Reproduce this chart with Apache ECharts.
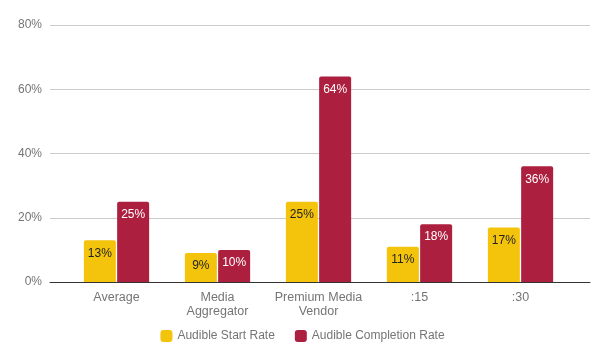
<!DOCTYPE html>
<html><head><meta charset="utf-8">
<script src="https://cdn.jsdelivr.net/npm/echarts@6/dist/echarts.min.js"></script>
<style>html,body{margin:0;padding:0;background:#fff}#c{width:605px;height:361px}</style>
</head><body><div id="c"></div>
<script>
const categories = ['Average', 'Media\nAggregator', 'Premium Media\nVendor', ':15', ':30'];
const startRate = [13, 9, 25, 11, 17];
const completionRate = [25, 10, 64, 18, 36];
const yTicks = [0, 20, 40, 60, 80];
const seriesNames = ['Audible Start Rate', 'Audible Completion Rate'];

const chart = echarts.init(document.getElementById('c'));
const font = 'Arial, "Liberation Sans", sans-serif';
chart.setOption({
  animation: false,
  textStyle: { fontFamily: font },
  legend: {
    bottom: 14, left: 'center', itemWidth: 12, itemHeight: 12, itemGap: 20,
    icon: 'roundRect',
    textStyle: { color: '#757575', fontSize: 12, fontFamily: font },
    data: seriesNames
  },
  grid: [
    { left: 50, right: 15, top: 25, bottom: 79 },
    { left: 66, right: 34, top: 25, bottom: 79 }
  ],
  xAxis: [
    { type: 'category', gridIndex: 0, data: [''], axisLine: { lineStyle: { color: '#333', width: 1 } },
      axisTick: { show: false }, axisLabel: { show: false } },
    { type: 'category', gridIndex: 1, data: categories, axisLine: { show: false }, axisTick: { show: false },
      axisLabel: { interval: 0, color: '#757575', fontSize: 12.5, fontFamily: font, margin: 9, lineHeight: 14 } }
  ],
  yAxis: [
    { type: 'value', gridIndex: 0, min: yTicks[0], max: yTicks[yTicks.length - 1], interval: 20,
      axisLine: { show: false }, axisTick: { show: false },
      axisLabel: { formatter: '{value}%', color: '#757575', fontSize: 12, fontFamily: font, margin: 8 },
      splitLine: { lineStyle: { color: '#cccccc' } } },
    { type: 'value', gridIndex: 1, min: yTicks[0], max: yTicks[yTicks.length - 1], interval: 20,
      show: false }
  ],
  series: [
    { name: seriesNames[0], type: 'bar', xAxisIndex: 1, yAxisIndex: 1, data: startRate,
      barWidth: 32, barGap: '4%', itemStyle: { color: '#f4c40c', borderRadius: [2, 2, 0, 0] },
      label: { show: true, position: 'insideTop', distance: 7, formatter: '{c}%', color: '#222', fontSize: 12, fontFamily: font } },
    { name: seriesNames[1], type: 'bar', xAxisIndex: 1, yAxisIndex: 1, data: completionRate,
      barWidth: 32, barGap: '4%', itemStyle: { color: '#ad1f3f', borderRadius: [2, 2, 0, 0] },
      label: { show: true, position: 'insideTop', distance: 7, formatter: '{c}%', color: '#fff', fontSize: 12, fontFamily: font } }
  ]
});
</script></body></html>
